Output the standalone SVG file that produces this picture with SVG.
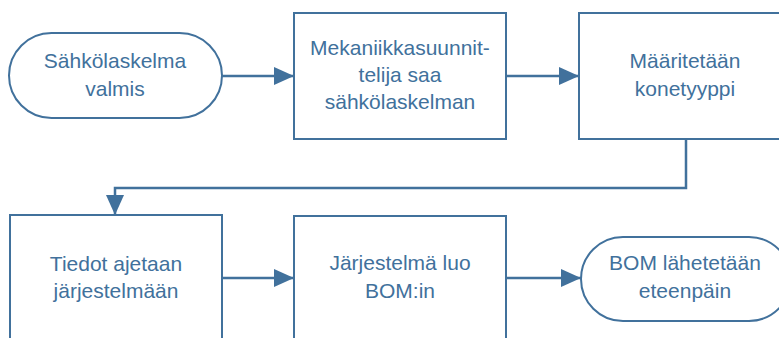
<svg xmlns="http://www.w3.org/2000/svg" width="779" height="338" viewBox="0 0 779 338">
<defs>
<style>
.node{fill:#ffffff;stroke:#41719c;stroke-width:2}
.conn{fill:none;stroke:#41719c;stroke-width:2.5}
.lbl{font-family:"Liberation Sans",Arial,sans-serif;font-size:21px;fill:#41719c;text-anchor:middle}
</style>
<marker id="arr" markerWidth="8" markerHeight="8" refX="8" refY="4" orient="auto" markerUnits="userSpaceOnUse" viewBox="0 0 8 8">
<path d="M0,0 L8,4 L0,8 Z" fill="#41719c"/>
</marker>
<marker id="ah" viewBox="0 0 20 18" refX="20" refY="9" markerWidth="20" markerHeight="18" markerUnits="userSpaceOnUse" orient="auto">
<path d="M0,0 L20,9 L0,18 Z" fill="#41719c"/>
</marker>
</defs>
<rect width="779" height="338" fill="#ffffff"/>
<g id="connectors">
<path class="conn" d="M222,76 H294" marker-end="url(#ah)"/>
<path class="conn" d="M506,76 H579" marker-end="url(#ah)"/>
<path class="conn" d="M686,139 V188 H115 V215" marker-end="url(#ah)"/>
<path class="conn" d="M222,278 H294" marker-end="url(#ah)"/>
<path class="conn" d="M506,278 H581" marker-end="url(#ah)"/>
</g>
<g id="n1">
<rect class="node" x="9" y="33" width="213" height="85" rx="42.5" ry="42.5"/>
<text class="lbl" x="115" y="68">Sähkölaskelma</text>
<text class="lbl" x="115" y="96">valmis</text>
</g>
<g id="n2">
<rect class="node" x="294" y="13" width="212" height="126"/>
<text class="lbl" x="400" y="55">Mekaniikkasuunnit-</text>
<text class="lbl" x="400" y="82">telija saa</text>
<text class="lbl" x="400" y="109">sähkölaskelman</text>
</g>
<g id="n3">
<rect class="node" x="579" y="13" width="212" height="126"/>
<text class="lbl" x="685" y="68">Määritetään</text>
<text class="lbl" x="685" y="96">konetyyppi</text>
</g>
<g id="n4">
<rect class="node" x="10" y="215" width="212" height="130"/>
<text class="lbl" x="116" y="271">Tiedot ajetaan</text>
<text class="lbl" x="116" y="298">järjestelmään</text>
</g>
<g id="n5">
<rect class="node" x="294" y="216" width="212" height="130"/>
<text class="lbl" x="400" y="270">Järjestelmä luo</text>
<text class="lbl" x="400" y="298">BOM:in</text>
</g>
<g id="n6">
<rect class="node" x="581" y="237" width="210" height="84" rx="42" ry="42"/>
<text class="lbl" x="685" y="270">BOM lähetetään</text>
<text class="lbl" x="685" y="298">eteenpäin</text>
</g>
</svg>
